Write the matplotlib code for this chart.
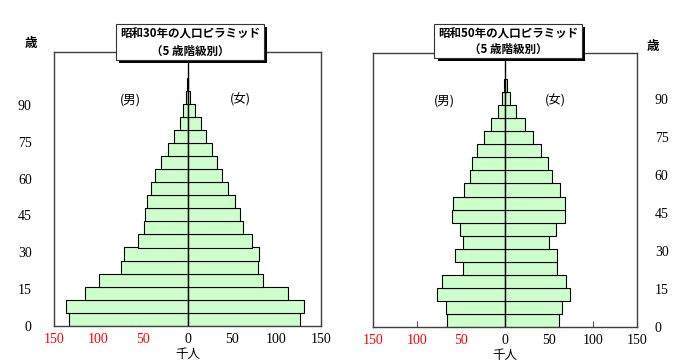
import numpy as np
import matplotlib
matplotlib.use("Agg")
import matplotlib.pyplot as plt
from matplotlib.patches import Rectangle

# ---- data (thousand persons, 5-year age groups) ----
age_groups = ["0-4", "5-9", "10-14", "15-19", "20-24", "25-29", "30-34", "35-39",
              "40-44", "45-49", "50-54", "55-59", "60-64", "65-69", "70-74",
              "75-79", "80-84", "85-89", "90+"]
male_s30 = [133.5, 137, 115, 100, 75, 71, 56, 49, 48, 45, 40.5, 36, 30, 22, 15, 8.8, 4.5, 1.5, 0.3]
female_s30 = [126.7, 131, 113.2, 85.2, 79.7, 79.8, 72.8, 62.9, 59.2, 53.4, 46, 39.3, 33.2, 27, 21, 15, 7.9, 3.2, 0.6]
male_s50 = [65.7, 67.2, 78, 71.6, 47.5, 56.4, 47.5, 50.9, 60, 59, 46.7, 39.3, 37.4, 31.5, 23.9, 15.8, 7.8, 3.2, 1.5]
female_s50 = [61.7, 64.4, 74.6, 69.7, 59.6, 59.6, 50.5, 57.9, 67.8, 68.5, 63, 53.9, 48.8, 40.6, 31.5, 23.1, 12.7, 5.7, 2]

x_ticks = [-150, -100, -50, 0, 50, 100, 150]
x_tick_labels = ["150", "100", "50", "0", "50", "100", "150"]
age_ticks = [0, 15, 30, 45, 60, 75, 90]
titles = ["昭和30年の人口ピラミッド", "昭和50年の人口ピラミッド"]
subtitle = "（5 歳階級別）"

W, H = 700, 364
fig = plt.figure(figsize=(7, 3.64), dpi=100)

JP = ["Noto Sans CJK JP", "DejaVu Sans"]
NUM = ["Liberation Serif", "DejaVu Serif"]


def fx(px):
    return px / W


def fy(py):
    return 1 - py / H


def panel(rect, males, females, age_top, side, title, box, ttl_y):
    x0, y0, x1, y1 = rect  # pixels (left, top, right, bottom)
    pos = [fx(x0), fy(y1), fx(x1) - fx(x0), fy(y0) - fy(y1)]
    ax = fig.add_axes(pos)
    idx = np.arange(len(age_groups))
    m = np.array(males)
    f = np.array(females)
    ax.barh(idx, -m, height=1, align="edge", color="#CCFFCC",
            edgecolor="black", linewidth=0.8, zorder=2)
    ax.barh(idx, f, height=1, align="edge", color="#CCFFCC",
            edgecolor="black", linewidth=0.8, zorder=2)
    ax.axvline(0, color="black", lw=1.0, zorder=3)
    ax.set_xlim(-150, 150)
    ax.set_ylim(0, 21)
    ax.set_yticks([])
    ax.set_xticks(x_ticks)
    ax.set_xticklabels(x_tick_labels, fontfamily=NUM, fontsize=10)
    for lab, v in zip(ax.get_xticklabels(), x_ticks):
        lab.set_color("red" if v < 0 else "black")
    ax.tick_params(axis="x", direction="in", length=4, width=0.8,
                   color="#555555", pad=5)
    for s in ax.spines.values():
        s.set_color("#404040")
        s.set_linewidth(1.0)
    ax.set_xlabel("千人", fontfamily=JP, fontsize=9, labelpad=2)
    ax.text(0.285 if side == "left" else 0.268, 0.825, "(男)",
            transform=ax.transAxes, ha="center", va="center",
            fontfamily=JP, fontsize=9)
    ax.text(0.697 if side == "left" else 0.69, 0.825, "(女)",
            transform=ax.transAxes, ha="center", va="center",
            fontfamily=JP, fontsize=9)

    # age axis
    ax2 = fig.add_axes(pos, frameon=False)
    ax2.set_facecolor("none")
    ax2.set_ylim(0, age_top)
    ax2.set_xticks([])
    ax2.set_yticks(age_ticks)
    ax2.set_yticklabels([str(a) for a in age_ticks], fontfamily=NUM, fontsize=10)
    if side == "left":
        ax2.yaxis.tick_left()
        ax2.tick_params(axis="y", length=0, pad=16)
    else:
        ax2.yaxis.tick_right()
        ax2.tick_params(axis="y", length=0, pad=13)

    # title box with shadow
    bx0, by0, bx1, by1 = box
    sh = Rectangle((fx(bx0 + 3), fy(by1 + 3)), fx(bx1) - fx(bx0), fy(by0) - fy(by1),
                   transform=fig.transFigure, facecolor="black", edgecolor="none", zorder=5)
    bx = Rectangle((fx(bx0), fy(by1)), fx(bx1) - fx(bx0), fy(by0) - fy(by1),
                   transform=fig.transFigure, facecolor="white", edgecolor="#333333",
                   linewidth=0.8, zorder=6)
    fig.add_artist(sh)
    fig.add_artist(bx)
    cx = fx((bx0 + bx1) / 2)
    fig.text(cx, fy(ttl_y[0]), title, ha="center", va="center",
             fontfamily=JP, fontsize=8.3, fontweight="bold", zorder=7)
    fig.text(cx, fy(ttl_y[1]), subtitle, ha="center", va="center",
             fontfamily=JP, fontsize=8.3, fontweight="bold", zorder=7)


panel((54, 52, 321, 325.7), male_s30, female_s30, 111.6, "left",
      titles[0], (116, 23.5, 264, 60), (34, 51.5))
panel((373.3, 53.3, 636.7, 326.7), male_s50, female_s50, 108, "right",
      titles[1], (434.5, 24.5, 582, 57.5), (34, 49.5))

fig.text(fx(31), fy(43), "歳", ha="center", va="center", fontfamily=JP,
         fontsize=9, fontweight="bold")
fig.text(fx(653), fy(46.5), "歳", ha="center", va="center", fontfamily=JP,
         fontsize=9, fontweight="bold")

fig.savefig("out.png", dpi=100)
